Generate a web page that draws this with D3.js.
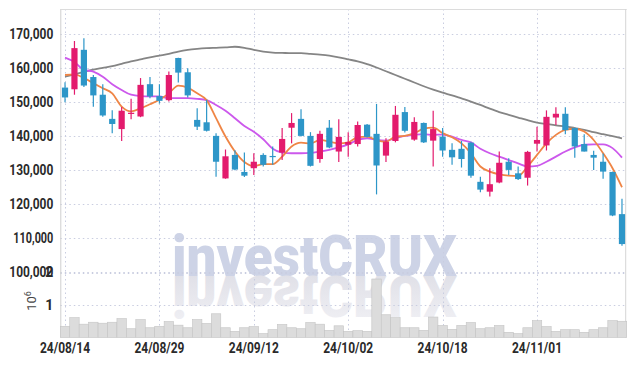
<!DOCTYPE html>
<html>
<head>
<meta charset="utf-8">
<script src="https://cdn.jsdelivr.net/npm/d3@7"></script>
<style>
  body { margin: 0; background: #fff; }
  svg { display: block; }
</style>
</head>
<body>
<div class="chart"></div>
<script>
const w = 634, h = 366;

const dates = ['24/08/14','24/08/16','24/08/19','24/08/20','24/08/21','24/08/22','24/08/23','24/08/26','24/08/27','24/08/28',
  '24/08/29','24/08/30','24/09/02','24/09/03','24/09/04','24/09/05','24/09/06','24/09/09','24/09/10','24/09/11',
  '24/09/12','24/09/13','24/09/19','24/09/20','24/09/23','24/09/24','24/09/25','24/09/26','24/09/27','24/09/30',
  '24/10/02','24/10/04','24/10/07','24/10/08','24/10/10','24/10/11','24/10/14','24/10/15','24/10/16','24/10/17',
  '24/10/18','24/10/21','24/10/22','24/10/23','24/10/24','24/10/25','24/10/28','24/10/29','24/10/30','24/10/31',
  '24/11/01','24/11/04','24/11/05','24/11/06','24/11/07','24/11/08','24/11/11','24/11/12','24/11/13','24/11/14'];

const open = [154300,153800,165400,157400,152200,145100,142100,146800,145800,155300,151800,150600,163000,158800,144800,144100,140100,127600,134500,129500,
  130600,134500,134200,135200,142500,145100,140100,133300,142500,135500,137500,137700,143400,140700,134300,138600,147100,139000,143900,138700,
  139900,136000,136300,138100,126600,123700,126400,132500,129100,127800,137800,137300,145500,146600,142400,137700,134500,132500,129500,117100];
const close = [151400,165900,154900,152000,146100,143600,147500,146900,155100,151700,150400,158000,158700,152000,142800,141600,132500,134100,130200,128400,
  132500,131600,134000,139200,143900,140100,131300,140700,136700,139800,138300,143300,139800,131400,138400,146300,141600,144200,138200,142100,
  135800,133800,133300,128400,124300,125900,132200,130100,127400,135400,138900,145700,146600,141800,137000,135500,133700,129600,116700,108300];
const high = [155900,168000,168800,158000,155300,147600,148600,151000,157100,157400,155300,159000,163100,160000,148200,150700,140900,136100,135900,135200,
  135000,135000,137000,142400,146800,147900,141200,141600,144800,145000,141200,144300,143600,149500,139400,148900,148600,145600,144000,147500,
  142400,137900,138600,138400,128100,130600,135500,133500,131100,135700,142800,147600,148500,148500,142600,140600,135700,134900,129600,121600];
const low = [150000,152200,154500,148700,145700,140900,138600,145000,145600,151200,149600,150200,155800,151400,141800,141400,128100,127500,130000,128000,
  128600,131100,131600,133000,137900,139900,131100,132200,136500,132400,134000,137000,139600,122900,132400,138200,141100,138700,138000,131100,
  134000,131600,130800,127800,123500,122300,126200,128600,127100,125500,135500,135800,143300,140600,133700,135500,130100,127500,116500,107800];
const volume = [345000,610000,410000,470000,440000,470000,580000,270000,550000,300000,345000,490000,380000,300000,550000,430000,730000,300000,190000,300000,
  335000,120000,240000,400000,300000,270000,460000,410000,220000,360000,190000,210000,190000,1800000,700000,610000,300000,300000,220000,630000,
  370000,250000,370000,460000,270000,300000,370000,160000,120000,300000,520000,335000,190000,240000,240000,160000,240000,300000,520000,500000];

// moving averages (thousand won)
const ma5 = [158.0,158.2,157.1,155.6,154.1,152.6,148.7,147.3,148.2,149.4,150.7,152.6,154.9,154.3,152.6,150.6,145.3,139.9,135.5,132.4,
  131.2,131.8,131.8,134.0,137.0,138.1,137.9,138.9,138.4,137.9,138.2,139.7,139.9,138.8,138.4,139.9,140.1,140.9,142.2,142.5,
  140.9,139.7,137.9,135.0,131.1,129.6,128.8,128.4,128.3,131.1,134.5,137.9,140.4,141.9,142.2,141.4,138.9,135.0,130.6,125.0];
const ma20 = [163.1,161.8,159.5,159.0,157.5,155.3,153.6,152.2,151.8,151.7,151.7,151.2,151.2,151.2,151.0,150.6,149.2,147.5,145.3,143.0,
  141.3,139.1,136.3,135.2,135.0,135.0,135.1,135.5,136.0,136.7,137.6,138.9,139.4,138.9,138.7,139.4,140.1,140.4,140.6,140.4,
  140.5,139.9,138.9,138.2,136.3,135.0,134.0,133.0,132.0,131.1,131.3,132.5,134.0,135.5,136.7,137.5,137.6,137.6,136.5,133.7];
const ma60 = [157.5,158.2,158.9,159.6,160.1,160.6,161.3,162.0,162.6,163.2,163.7,164.2,164.9,165.4,165.7,165.9,166.0,166.1,166.3,166.0,
  165.4,164.9,164.6,164.5,164.4,164.4,164.2,164.0,163.7,163.2,162.6,162.0,161.2,160.2,159.1,158.0,156.9,155.8,154.7,153.7,
  152.8,152.0,151.1,150.2,149.2,148.1,147.1,146.3,145.5,144.7,144.0,143.6,143.2,142.9,142.4,141.9,141.2,140.6,140.0,139.4];

const priceTicks = [100000,110000,120000,130000,140000,150000,160000,170000];
const volTicks = [1000000, 2000000];
const dateTicks = ['24/08/14','24/08/29','24/09/12','24/10/02','24/10/18','24/11/01'];

const upColor = '#e31b6d', downColor = '#2d96c8';
const font = "Roboto, 'DejaVu Sans', sans-serif";

const pLeft = 60.3, pRight = 626.7, pTop = 9, mainBottom = 272.3, volTop = 272.5, volBottom = 337.5;

const x = d3.scaleBand().domain(dates).range([pLeft, pRight]).padding(0);
const bw = x.bandwidth();
const cx = (i) => x(dates[i]) + bw / 2;

const y = d3.scaleLinear().domain([100000, 177400]).range([mainBottom, pTop]);
const yv = d3.scaleLinear().domain([0, 2000000]).range([volBottom, volTop]);

const svg = d3.select('div.chart').append('svg')
  .attr('width', w).attr('height', h);

// fading reflection of the watermark
const grad = svg.append('defs').append('linearGradient')
  .attr('id', 'fade').attr('x1', 0).attr('x2', 0).attr('y1', 0).attr('y2', 1);
grad.append('stop').attr('offset', '0%').attr('stop-color', '#f2f2f6');
grad.append('stop').attr('offset', '100%').attr('stop-color', '#dcdce4');

// watermark
const wm = svg.append('g').attr('font-family', font).attr('font-weight', 900);
wm.append('text')
  .attr('x', 172).attr('y', 276)
  .attr('textLength', 285).attr('lengthAdjust', 'spacingAndGlyphs')
  .attr('font-size', 58)
  .attr('fill', '#cdd3e6')
  .text('investCRUX');
wm.append('text')
  .attr('transform', 'translate(0,552) scale(1,-1)')
  .attr('x', 172).attr('y', 276)
  .attr('textLength', 285).attr('lengthAdjust', 'spacingAndGlyphs')
  .attr('font-size', 58)
  .attr('fill', 'url(#fade)')
  .text('investCRUX');

// grid
const grid = svg.append('g').attr('stroke', '#c9cde0').attr('stroke-width', 1).attr('stroke-dasharray', '1.5,3');
grid.selectAll('line.hy').data(priceTicks).enter().append('line')
  .attr('x1', pLeft).attr('x2', pRight)
  .attr('y1', (d) => Math.round(y(d)) + 0.5).attr('y2', (d) => Math.round(y(d)) + 0.5);
grid.selectAll('line.vy').data(volTicks).enter().append('line')
  .attr('x1', pLeft).attr('x2', pRight)
  .attr('y1', (d) => Math.round(yv(d)) + 0.5).attr('y2', (d) => Math.round(yv(d)) + 0.5);
grid.selectAll('line.vx').data(dateTicks).enter().append('line')
  .attr('x1', (d) => Math.round(x(d) + bw / 2) + 0.5).attr('x2', (d) => Math.round(x(d) + bw / 2) + 0.5)
  .attr('y1', pTop).attr('y2', volBottom);

// frame
svg.append('line').attr('x1', pLeft + 0.5).attr('x2', pLeft + 0.5).attr('y1', pTop).attr('y2', volBottom)
  .attr('stroke', '#cfcfcf');
svg.append('line').attr('x1', pLeft).attr('x2', pRight).attr('y1', pTop + 0.5).attr('y2', pTop + 0.5)
  .attr('stroke', '#dcdcdc');
svg.append('line').attr('x1', pRight - 1).attr('x2', pRight - 1).attr('y1', pTop).attr('y2', volBottom)
  .attr('stroke', '#d6d6d6');

// volume
svg.selectAll('rect.vol').data(volume).enter().append('rect')
  .attr('class', 'vol')
  .attr('x', (d, i) => x(dates[i]))
  .attr('width', bw)
  .attr('y', (d) => yv(d))
  .attr('height', (d) => volBottom - yv(d))
  .attr('fill', '#dcdcdc')
  .attr('stroke', '#c4c4c4')
  .attr('stroke-width', 0.6);

// moving averages
const maLine = (arr) => d3.line().x((d, i) => cx(i)).y((d) => y(d * 1000)).curve(d3.curveMonotoneX)(arr);
svg.append('path').attr('d', maLine(ma60)).attr('fill', 'none').attr('stroke', '#858585').attr('stroke-width', 1.8);
svg.append('path').attr('d', maLine(ma20)).attr('fill', 'none').attr('stroke', '#cc58ec').attr('stroke-width', 1.8);
svg.append('path').attr('d', maLine(ma5)).attr('fill', 'none').attr('stroke', '#ef8545').attr('stroke-width', 1.8);

// candles
const candles = svg.selectAll('g.candle').data(dates).enter().append('g').attr('class', 'candle');
candles.append('line')
  .attr('x1', (d, i) => cx(i)).attr('x2', (d, i) => cx(i))
  .attr('y1', (d, i) => y(high[i])).attr('y2', (d, i) => y(low[i]))
  .attr('stroke', (d, i) => close[i] >= open[i] ? upColor : downColor)
  .attr('stroke-width', 1.2);
candles.append('rect')
  .attr('x', (d, i) => cx(i) - 3.1)
  .attr('width', 6.2)
  .attr('y', (d, i) => y(Math.max(open[i], close[i])))
  .attr('height', (d, i) => Math.max(1.2, Math.abs(y(open[i]) - y(close[i]))))
  .attr('fill', (d, i) => close[i] >= open[i] ? upColor : downColor);

// axes
const yAxis = d3.axisLeft(y).tickValues(priceTicks).tickSize(0).tickPadding(7)
  .tickFormat(d3.format(','));
svg.append('g').attr('transform', 'translate(' + pLeft + ',0)').call(yAxis)
  .call((g) => g.select('.domain').remove())
  .selectAll('text').attr('font-family', font).attr('font-size', 14).attr('font-weight', 'bold').attr('fill', '#2a2a2a')
  .attr('textLength', (d) => d == 110000 ? 40 : 44).attr('lengthAdjust', 'spacingAndGlyphs');

const vAxis = d3.axisLeft(yv).tickValues(volTicks).tickSize(0).tickPadding(7)
  .tickFormat((d) => d / 1000000);
svg.append('g').attr('transform', 'translate(' + pLeft + ',0)').call(vAxis)
  .call((g) => g.select('.domain').remove())
  .selectAll('text').attr('font-family', font).attr('font-size', 14).attr('font-weight', 'bold').attr('fill', '#2a2a2a');

const vLabel = svg.append('text')
  .attr('transform', 'translate(36,301) rotate(-90)')
  .attr('text-anchor', 'middle')
  .attr('font-family', font).attr('font-size', 13).attr('fill', '#444');
vLabel.append('tspan').text('10');
vLabel.append('tspan').attr('dy', -5).attr('font-size', 9).text('6');

const xAxis = d3.axisBottom(x).tickValues(dateTicks).tickSize(0).tickPadding(6);
svg.append('g').attr('transform', 'translate(0,' + volBottom + ')').call(xAxis)
  .call((g) => g.select('.domain').remove())
  .selectAll('text').attr('font-family', font).attr('font-size', 14).attr('font-weight', 'bold').attr('fill', '#2a2a2a')
  .attr('textLength', 50).attr('lengthAdjust', 'spacingAndGlyphs');
</script>
</body>
</html>
